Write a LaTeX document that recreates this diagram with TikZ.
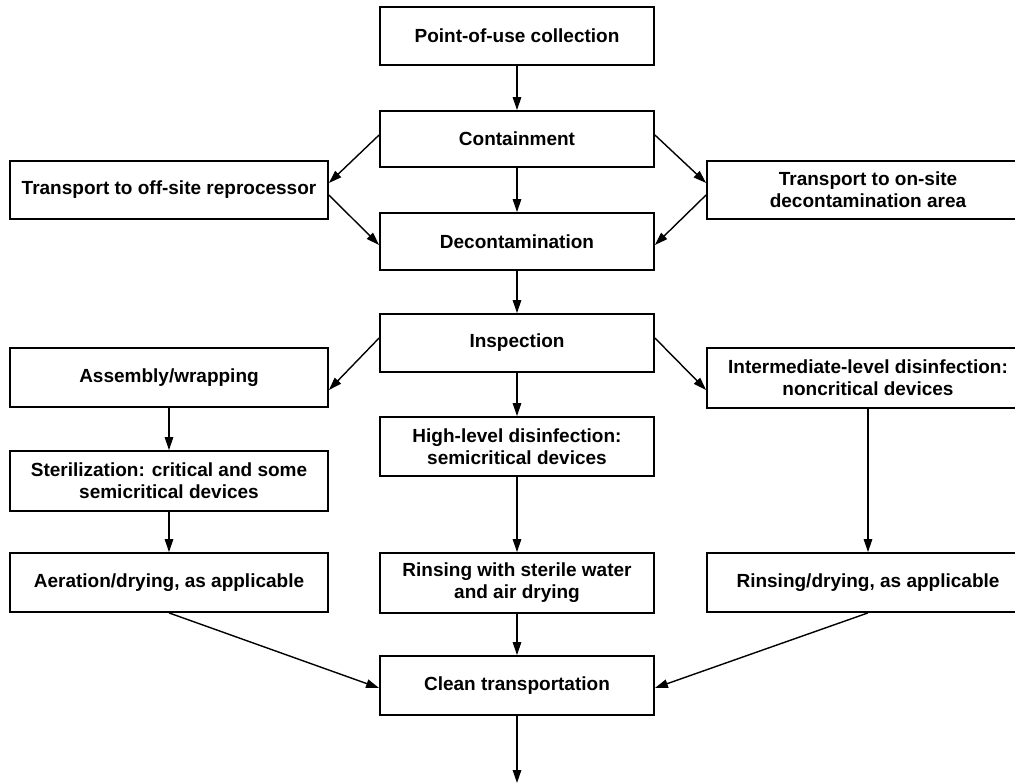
\documentclass[tikz,border=0pt]{standalone}
\usepackage{fontspec}
\setmainfont{Liberation Sans}
\usetikzlibrary{arrows.meta}
\tikzset{
  x=1pt, y=-1pt,
  box/.style={draw, line width=1.8pt, inner sep=0pt, align=center,
    font=\bfseries\fontsize{19}{22}\selectfont},
  cbox/.style={box, minimum width=274pt},
  lbox/.style={box, minimum width=318pt},
  rbox/.style={box, minimum width=322pt},
  arr/.style={line width=1.4pt, -{Triangle[length=13pt,width=8.5pt]}}
}
\begin{document}
\begin{tikzpicture}
\useasboundingbox (0,0) rectangle (1015,783);
% center column
\node[cbox, minimum height=58pt] (pou) at (517,36) {Point-of-use collection};
\node[cbox, minimum height=56pt] (cont) at (517,139) {Containment};
\node[cbox, minimum height=57pt] (dec) at (517,241.5) {Decontamination};
\node[cbox, minimum height=58pt] (insp) at (517,343) {Inspection};
\node[cbox, minimum height=59pt] (hld) at (517,446.5) {High-level disinfection:\\semicritical devices};
\node[cbox, minimum height=60pt] (rsw) at (517,583) {Rinsing with sterile water\\and air drying};
\node[cbox, minimum height=59pt] (clean) at (517,685.5) {Clean transportation};
% left column
\node[lbox, minimum height=58pt] (off) at (169,190) {Transport to off-site reprocessor};
\node[lbox, minimum height=59pt] (asm) at (169,377.5) {Assembly/wrapping};
\node[lbox, minimum height=60pt] (ster) at (169,481) {Sterilization: critical and some\\semicritical devices};
\node[lbox, minimum height=59pt] (aer) at (169,582.5) {Aeration/drying, as applicable};
% right column
\node[rbox, minimum height=58pt] (on) at (868,190) {Transport to on-site\\decontamination area};
\node[rbox, minimum height=60pt] (inter) at (868,378) {Intermediate-level disinfection:\\noncritical devices};
\node[rbox, minimum height=59pt] (rdr) at (868,582.5) {Rinsing/drying, as applicable};
\coordinate (end) at (517,783);
% connectors
\draw[arr] (pou) -- (cont);
\draw[arr] (cont) -- (dec);
\draw[arr] ([yshift=4pt]cont.west) -- ([yshift=7pt]off.east);
\draw[arr] ([yshift=-5pt]off.east) -- ([yshift=-3.5pt]dec.west);
\draw[arr] ([yshift=4pt]cont.east) -- ([yshift=7pt]on.west);
\draw[arr] ([yshift=-5pt]on.west) -- ([yshift=-3.5pt]dec.east);
\draw[arr] (dec) -- (insp);
\draw[arr] ([yshift=5pt]insp.west) -- ([yshift=-12.5pt]asm.east);
\draw[arr] ([yshift=5pt]insp.east) -- ([yshift=-12pt]inter.west);
\draw[arr] (insp) -- (hld);
\draw[arr] (asm) -- (ster);
\draw[arr] (ster) -- (aer);
\draw[arr] (hld) -- (rsw);
\draw[arr] (inter) -- (rdr);
\draw[arr] (aer.south) -- ([yshift=-2.5pt]clean.west);
\draw[arr] (rsw) -- (clean);
\draw[arr] (rdr.south) -- ([yshift=-2.5pt]clean.east);
\draw[arr] (clean) -- (end);
\end{tikzpicture}
\end{document}
